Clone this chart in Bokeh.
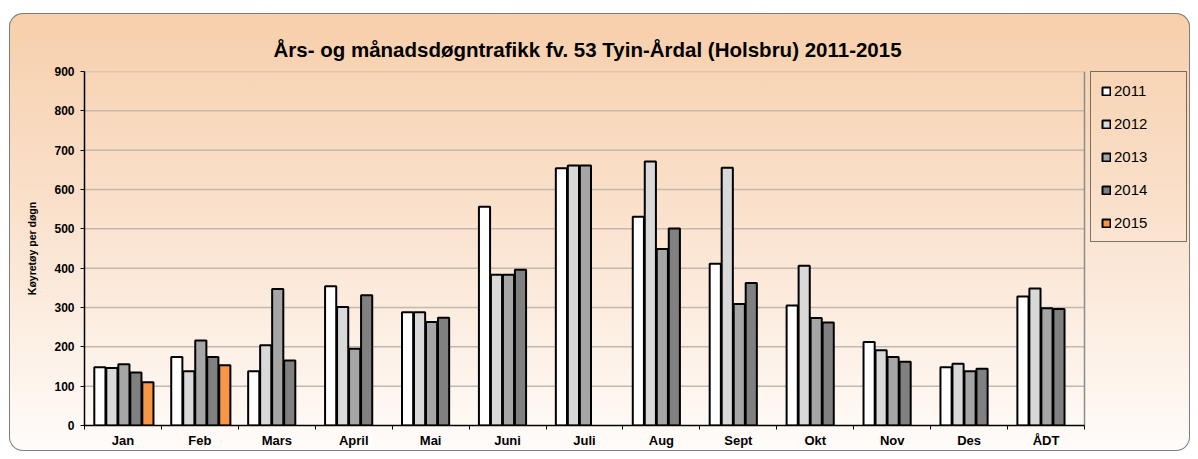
from bokeh.plotting import figure
from bokeh.models import ColumnDataSource, FixedTicker, Legend, LegendItem, Range1d
from bokeh.transform import dodge
from bokeh.embed import file_html
from bokeh.resources import INLINE

months = ["Jan", "Feb", "Mars", "April", "Mai", "Juni", "Juli", "Aug", "Sept", "Okt", "Nov", "Des", "ÅDT"]
years = ["2011", "2012", "2013", "2014", "2015"]
y2011 = [148, 174, 138, 354, 288, 556, 654, 531, 411, 305, 212, 148, 328]
y2012 = [146, 138, 204, 301, 288, 383, 661, 671, 655, 406, 191, 157, 348]
y2013 = [156, 216, 347, 195, 263, 383, 661, 449, 309, 273, 174, 138, 298]
y2014 = [135, 174, 165, 331, 274, 396, None, 501, 362, 262, 162, 144, 296]
y2015 = [110, 153, None, None, None, None, None, None, None, None, None, None, None]
series = [y2011, y2012, y2013, y2014, y2015]
colors = ["#ffffff", "#d9d9d9", "#a6a6a6", "#808080", "#f79646"]
yticks = list(range(0, 901, 100))

FONT = "Liberation Sans"
W, H = 1181, 438
LEFT, RIGHT, TOP, BOTTOM = 75, 3, 58, 26
ncat = len(months)
# frame spans the legend area too; the category axis covers 1000 px of it
x_end = ncat * (W - LEFT - RIGHT) / 1000.0

p = figure(width=W, height=H, x_range=Range1d(0, x_end), y_range=Range1d(0, 900),
           output_backend="svg", toolbar_location=None,
           min_border_left=LEFT, min_border_right=RIGHT, min_border_top=TOP, min_border_bottom=BOTTOM)
p.styles = {
    "background": "linear-gradient(to bottom, #f7cfab 0%, #fae1cc 45%, #fffcfa 100%)",
    "border-radius": "14px",
    "box-shadow": "inset 0 0 0 1px #7d7d7d",
    "margin-left": "9px",
    "margin-top": "13px",
}
p.background_fill_alpha = 0
p.border_fill_alpha = 0
p.outline_line_color = None

p.title.text = "Års- og månadsdøgntrafikk fv. 53 Tyin-Årdal (Holsbru) 2011-2015"
p.title.align = "left"
p.title.offset = 189
p.title.text_font = FONT
p.title.text_font_style = "bold"
p.title.text_font_size = "20.5px"
p.title.text_color = "black"
p.title.standoff = 22

# horizontal gridlines and right border of plot area
p.segment(x0=0, x1=ncat, y0=yticks[1:], y1=yticks[1:], line_color="#c4b8ad",
          line_width=1.5, level="underlay")
p.segment(x0=ncat, x1=ncat, y0=0, y1=900, line_color="#8c8c8c", line_width=1.5,
          level="underlay")

items = []
for k, (yr, vals, col) in enumerate(zip(years, series, colors)):
    xs = [i + 0.5 for i, v in enumerate(vals) if v is not None]
    tops = [v for v in vals if v is not None]
    src = ColumnDataSource(dict(x=xs, top=tops))
    off = -0.30 + 0.156 * k
    r = p.vbar(x=dodge("x", off), top="top", bottom=0, width=0.145, source=src,
               fill_color=col, line_color="black", line_width=2)
    items.append(LegendItem(label=yr, renderers=[r]))

legend = Legend(items=items, location="top_right", margin=0, padding=10, spacing=16,
                glyph_width=10, glyph_height=10, label_height=16, label_width=62,
                label_standoff=3, border_line_color="black", border_line_width=1.5,
                background_fill_alpha=0, label_text_font=FONT, label_text_font_size="15px",
                label_text_color="black")
p.add_layout(legend)

# x axis
p.xaxis.bounds = (0, ncat)
p.xaxis.ticker = FixedTicker(ticks=[i + 0.5 for i in range(ncat)],
                             minor_ticks=list(range(ncat + 1)))
p.xaxis.major_label_overrides = {i + 0.5: m for i, m in enumerate(months)}
p.xaxis.major_tick_out = 0
p.xaxis.major_tick_in = 0
p.xaxis.minor_tick_out = 4
p.xaxis.minor_tick_in = 0
p.xaxis.minor_tick_line_color = "black"
p.xaxis.axis_line_color = "black"
p.xaxis.axis_line_width = 1.5
p.xaxis.major_label_text_font = FONT
p.xaxis.major_label_text_font_style = "bold"
p.xaxis.major_label_text_font_size = "13px"
p.xaxis.major_label_text_color = "black"
p.xaxis.major_label_standoff = 3

# y axis
p.yaxis.ticker = FixedTicker(ticks=yticks, minor_ticks=[])
p.yaxis.major_tick_out = 4
p.yaxis.major_tick_in = 0
p.yaxis.major_tick_line_color = "black"
p.yaxis.axis_line_color = "black"
p.yaxis.axis_line_width = 1.5
p.yaxis.major_label_text_font = FONT
p.yaxis.major_label_text_font_style = "bold"
p.yaxis.major_label_text_font_size = "12px"
p.yaxis.major_label_text_color = "black"
p.yaxis.major_label_standoff = 6
p.yaxis.axis_label = "Køyretøy per døgn"
p.yaxis.axis_label_text_font = FONT
p.yaxis.axis_label_text_font_style = "bold"
p.yaxis.axis_label_text_font_size = "10.5px"
p.yaxis.axis_label_text_color = "black"
p.yaxis.axis_label_standoff = 13

p.xgrid.visible = False
p.ygrid.visible = False

open("out.html", "w").write(file_html(p, INLINE))
